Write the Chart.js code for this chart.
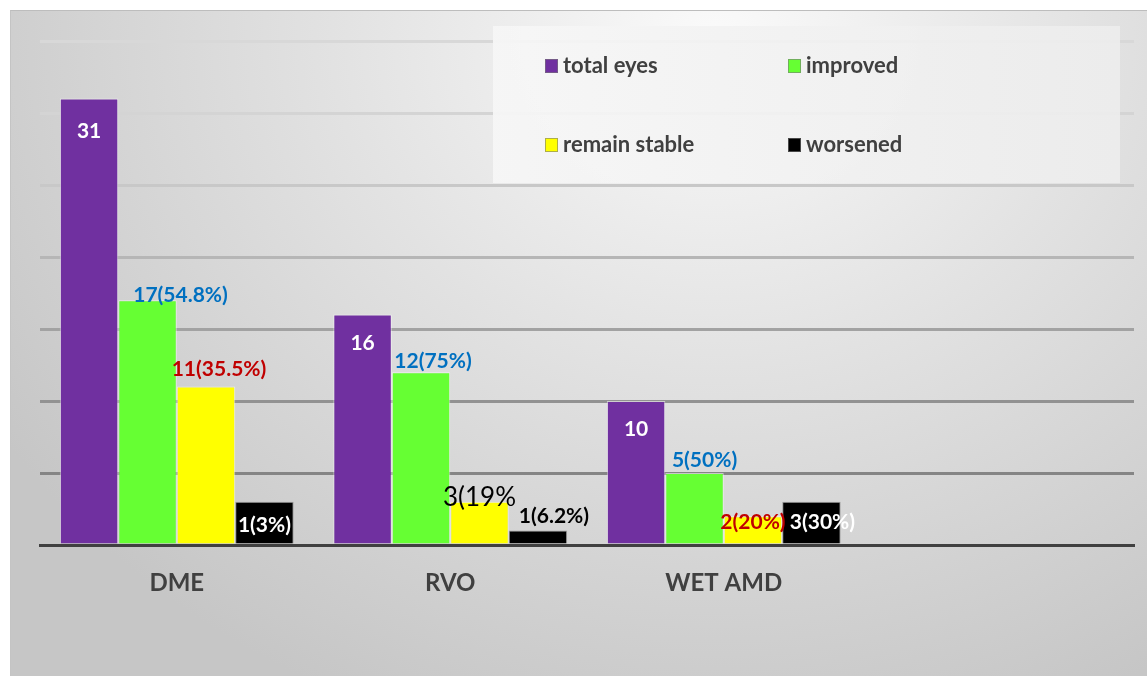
<!DOCTYPE html>
<html>
<head>
<meta charset="utf-8">
<script src="https://cdn.jsdelivr.net/npm/chart.js@4"></script>
<style>
  html, body { margin: 0; padding: 0; background: #fff; }
  #wrap { position: relative; width: 1147px; height: 676px; }
  #bg {
    position: absolute; left: 10px; top: 10px; width: 1137px; height: 666px;
    border-top: 1px solid #bdbdbd; border-left: 1px solid #c4c4c4; box-sizing: border-box;
    background: radial-gradient(ellipse 75% 110% at 62% 4%, #fafafa 0%, #e2e2e2 45%, #c6c6c6 100%);
  }
  canvas { position: absolute; left: 0; top: 0; }
</style>
</head>
<body>
<div id="wrap">
  <div id="bg"></div>
  <canvas id="chart" width="1147" height="676"></canvas>
</div>
<script>
// ── Data ───────────────────────────────────────────────────────
const categories   = ['DME', 'RVO', 'WET AMD', ''];
const seriesNames  = ['total eyes', 'improved', 'remain stable', 'worsened'];
const totalEyes    = [31, 16, 10, null];
const improved     = [17, 12, 5, null];
const remainStable = [11, 3, 2, null];
const worsened     = [3, 1, 3, null];

const totalLabels    = ['31', '16', '10'];
const improvedLabels = ['17(54.8%)', '12(75%)', '5(50%)'];
const stableLabels   = ['11(35.5%)', '3(19%', '2(20%)'];
const worsenedLabels = ['1(3%)', '1(6.2%)', '3(30%)'];

const yTicks = [0, 5, 10, 15, 20, 25, 30, 35];

// ── Styles ─────────────────────────────────────────────────────
const SERIES_COLORS = ['#7030A0', '#66FF33', '#FFFF00', '#000000'];
const FONT = 'Lato, "Open Sans", sans-serif';

// per-label styling (offset from bar top-centre to text centre)
const LABEL_STYLE = [
  { colors: ['#fff', '#fff', '#fff'], offsets: [[0, 33], [0, 29], [0, 28]] },
  { colors: ['#0070C0', '#0070C0', '#0070C0'], offsets: [[33, -5], [12, -11], [10, -13]] },
  { colors: ['#C00000', '#000', '#C00000'], offsets: [[13, -17], [0, -4], [0, 6]], plain: [false, true, false] },
  { colors: ['#fff', '#000', '#fff'], offsets: [[0, 23], [16, -14], [11, 20]] },
];
const LABEL_TEXTS = [totalLabels, improvedLabels, stableLabels, worsenedLabels];

const GRID_COLORS = {
  5: '#858585', 10: '#929292', 15: '#a2a2a2', 20: '#b6b6b6',
  25: '#c8c8c8', 30: '#d4d4d4', 35: '#d8d8d8',
};

// ── Plugins ────────────────────────────────────────────────────
const barLabels = {
  id: 'barLabels',
  afterDatasetsDraw(chart) {
    const ctx = chart.ctx;
    ctx.save();
    ctx.textAlign = 'center';
    ctx.textBaseline = 'middle';
    chart.data.datasets.forEach((ds, di) => {
      const meta = chart.getDatasetMeta(di);
      const st = LABEL_STYLE[di];
      LABEL_TEXTS[di].forEach((txt, i) => {
        const bar = meta.data[i];
        if (!bar) return;
        const plain = st.plain && st.plain[i];
        ctx.font = plain ? `400 26px ${FONT}` : `700 21px ${FONT}`;
        ctx.fillStyle = st.colors[i];
        ctx.fillText(txt, bar.x + st.offsets[i][0], bar.y + st.offsets[i][1]);
      });
    });
    ctx.restore();
  },
};

const boxLegend = {
  id: 'boxLegend',
  afterDraw(chart) {
    const ctx = chart.ctx;
    ctx.save();
    const g = ctx.createLinearGradient(493, 0, 1120, 0);
    g.addColorStop(0, 'rgba(246,246,246,0.95)');
    g.addColorStop(1, 'rgba(236,236,236,0.95)');
    ctx.fillStyle = g;
    ctx.fillRect(493, 26, 627, 157);
    const cols = [545, 788];
    const rows = [66, 145];
    ctx.font = `700 22px ${FONT}`;
    ctx.textBaseline = 'middle';
    ctx.textAlign = 'left';
    chart.data.datasets.forEach((ds, i) => {
      const x = cols[i % 2];
      const y = rows[Math.floor(i / 2)];
      ctx.fillStyle = ds.backgroundColor;
      ctx.fillRect(x, y - 7, 13, 14);
      ctx.strokeStyle = 'rgba(120,120,120,0.6)';
      ctx.lineWidth = 1;
      ctx.strokeRect(x + 0.5, y - 6.5, 12, 13);
      ctx.fillStyle = '#404040';
      ctx.fillText(ds.label, x + 18, y);
    });
    ctx.restore();
  },
};

// ── Chart ──────────────────────────────────────────────────────
const seriesData = [totalEyes, improved, remainStable, worsened];

new Chart(document.getElementById('chart').getContext('2d'), {
  type: 'bar',
  data: {
    labels: categories,
    datasets: seriesNames.map((name, i) => ({
      label: name,
      data: seriesData[i],
      backgroundColor: SERIES_COLORS[i],
      borderColor: i === 3 ? 'rgba(140,140,140,0.8)' : 'rgba(255,255,255,0.55)',
      borderWidth: 1,
      categoryPercentage: 0.855,
      barPercentage: 1.0,
    })),
  },
  options: {
    responsive: false,
    animation: false,
    layout: { padding: { left: 40, top: 41, right: 13, bottom: 0 } },
    plugins: {
      legend: { display: false },
      tooltip: { enabled: false },
    },
    scales: {
      x: {
        grid: { display: false },
        border: { display: true, color: '#404040', width: 3 },
        ticks: {
          color: '#404040',
          font: { family: FONT, size: 24, weight: '700' },
          padding: 16,
        },
        afterFit: s => { s.height = 676 - 545; },
      },
      y: {
        min: 0,
        max: 35,
        afterBuildTicks: s => { s.ticks = yTicks.map(v => ({ value: v })); },
        ticks: { display: false },
        border: { display: false },
        grid: {
          drawTicks: false,
          lineWidth: 3,
          color: c => (c.tick && GRID_COLORS[c.tick.value]) || 'rgba(0,0,0,0)',
        },
      },
    },
  },
  plugins: [barLabels, boxLegend],
});
</script>
</body>
</html>
